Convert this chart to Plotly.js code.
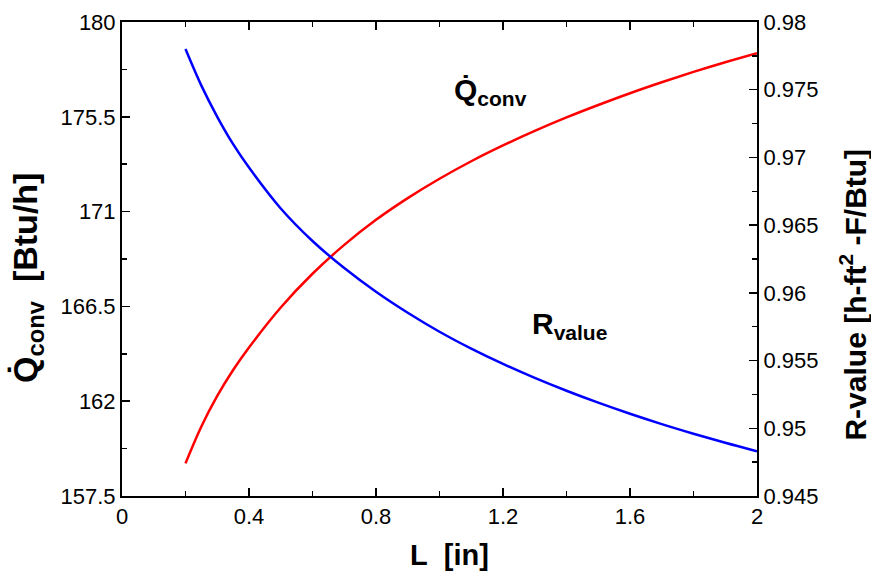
<!DOCTYPE html>
<html>
<head>
<meta charset="utf-8">
<script src="https://cdn.plot.ly/plotly-3.0.1.min.js"></script>
<style>html,body{margin:0;padding:0;background:#fff;}#chart{width:871px;height:573px;}</style>
</head>
<body>
<div id="chart"></div>
<script>
// Insulation thickness L [in]
const L = [0.2, 0.25, 0.3, 0.35, 0.4, 0.5, 0.6, 0.7, 0.8, 0.9, 1.0, 1.1, 1.2, 1.3, 1.4, 1.5, 1.6, 1.7, 1.8, 1.9, 2.0];
// Convective heat rate [Btu/h] (left axis, red)
const Qconv = [159.05, 160.80, 162.25, 163.48, 164.55, 166.45, 168.05, 169.42, 170.61, 171.64, 172.56, 173.39, 174.14, 174.83, 175.47, 176.06, 176.62, 177.14, 177.63, 178.09, 178.52];
// R-value [h-ft2-F/Btu] (right axis, blue)
const Rvalue = [0.97800, 0.97530, 0.97300, 0.97098, 0.96925, 0.96623, 0.96383, 0.96183, 0.96008, 0.95853, 0.95713, 0.95588, 0.95475, 0.95372, 0.95277, 0.95189, 0.95107, 0.95031, 0.94960, 0.94893, 0.94830];

const xTicks = [0, 0.4, 0.8, 1.2, 1.6, 2];
const yLeftTicks = [157.5, 162, 166.5, 171, 175.5, 180];
const yRightTicks = [0.945, 0.95, 0.955, 0.96, 0.965, 0.97, 0.975, 0.98];

const xTitle = '<b>L\u00a0\u00a0[in]</b>';
const yLeftTitle = '<b>Q\u0307<sub>conv</sub>\u00a0\u00a0[Btu/h]</b>';
const yRightTitle = '<b>R-value [h-ft<sup>2</sup> -F/Btu]</b>';
const qLabel = '<b>Q\u0307<sub>conv</sub></b>';
const rLabel = '<b>R<sub>value</sub></b>';

const FONT = "Liberation Sans, Arial, Helvetica, sans-serif";

const traces = [
  {x: L, y: Qconv, type: 'scatter', mode: 'lines', line: {color: '#ff0000', width: 2.5, shape: 'spline', smoothing: 1}, xaxis: 'x', yaxis: 'y', hoverinfo: 'skip'},
  {x: L, y: Rvalue, type: 'scatter', mode: 'lines', line: {color: '#0000ff', width: 2.5, shape: 'spline', smoothing: 1}, xaxis: 'x', yaxis: 'y2', hoverinfo: 'skip'}
];

const layout = {
  width: 871, height: 573,
  margin: {l: 122, r: 114, t: 22, b: 77},
  paper_bgcolor: '#fff', plot_bgcolor: '#fff',
  showlegend: false,
  font: {family: FONT, color: '#000', size: 22},
  xaxis: {
    range: [0, 2], tickmode: 'array', tickvals: xTicks, ticktext: xTicks.map(String),
    ticks: 'inside', ticklen: 8, tickwidth: 1.5, tickcolor: '#000',
    minor: {dtick: 0.2, ticks: 'inside', ticklen: 5, tickwidth: 1.5, tickcolor: '#000'},
    showline: true, linecolor: '#000', linewidth: 2, mirror: 'ticks',
    showgrid: false, zeroline: false,
    tickfont: {family: FONT, size: 22, color: '#000'}
  },
  yaxis: {
    range: [157.5, 180], tickmode: 'array', tickvals: yLeftTicks, ticktext: yLeftTicks.map(String),
    ticks: 'inside', ticklen: 8, tickwidth: 1.5, tickcolor: '#000',
    minor: {dtick: 2.25, tick0: 157.5, ticks: 'inside', ticklen: 5, tickwidth: 1.5, tickcolor: '#000'},
    showline: true, linecolor: '#000', linewidth: 2, mirror: false,
    showgrid: false, zeroline: false,
    tickfont: {family: FONT, size: 22, color: '#000'}
  },
  yaxis2: {
    range: [0.945, 0.98], overlaying: 'y', side: 'right', anchor: 'x',
    tickmode: 'array', tickvals: yRightTicks, ticktext: yRightTicks.map(v => String(v)),
    ticks: 'inside', ticklen: 8, tickwidth: 1.5, tickcolor: '#000',
    minor: {dtick: 0.0025, tick0: 0.945, ticks: 'inside', ticklen: 5, tickwidth: 1.5, tickcolor: '#000'},
    showline: true, linecolor: '#000', linewidth: 2,
    showgrid: false, zeroline: false,
    tickfont: {family: FONT, size: 22, color: '#000'}
  },
  annotations: [
    {x: 0.516, y: -0.125, xref: 'paper', yref: 'paper', text: xTitle, showarrow: false, xanchor: 'center', yanchor: 'middle', font: {family: FONT, size: 29, color: '#000'}},
    {x: -0.148, y: 0.46, xref: 'paper', yref: 'paper', text: yLeftTitle, textangle: -90, showarrow: false, xanchor: 'center', yanchor: 'middle', font: {family: FONT, size: 34, color: '#000'}},
    {x: 1.152, y: 0.424, xref: 'paper', yref: 'paper', text: yRightTitle, textangle: -90, showarrow: false, xanchor: 'center', yanchor: 'middle', font: {family: FONT, size: 30, color: '#000'}},
    {x: 1.16, y: 176.7, xref: 'x', yref: 'y', text: qLabel, showarrow: false, font: {family: FONT, size: 30, color: '#000'}},
    {x: 1.41, y: 165.6, xref: 'x', yref: 'y', text: rLabel, showarrow: false, font: {family: FONT, size: 30, color: '#000'}}
  ]
};

Plotly.newPlot('chart', traces, layout, {staticPlot: true, displayModeBar: false});
</script>
</body>
</html>
